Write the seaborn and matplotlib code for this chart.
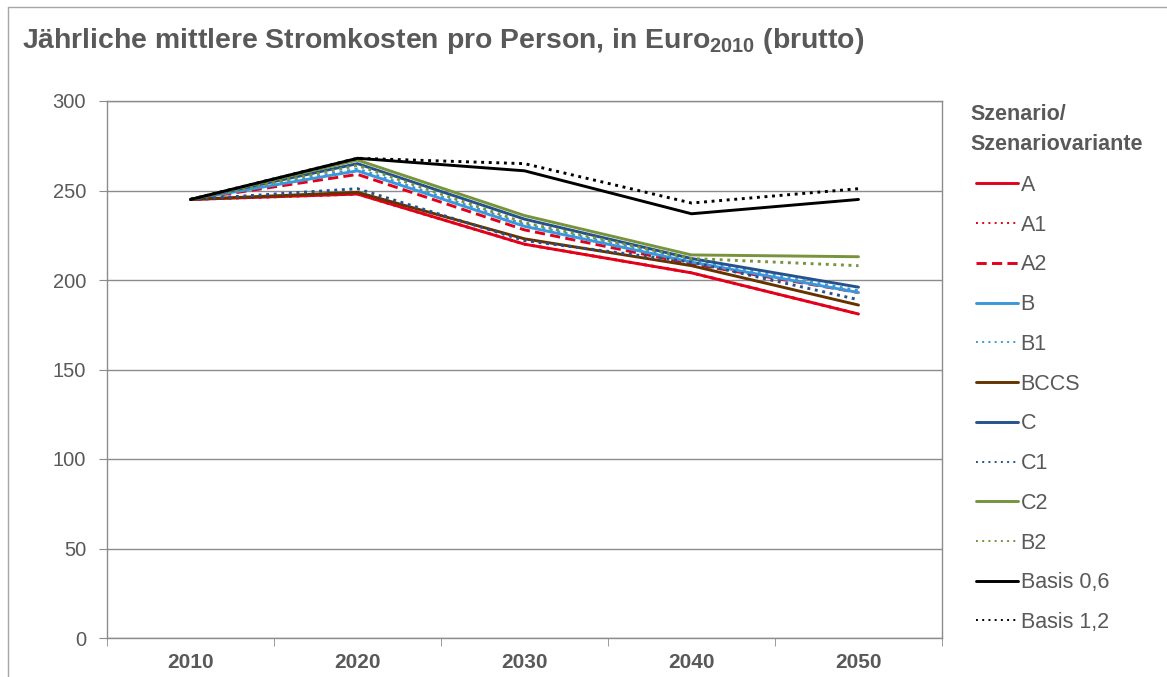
import pandas as pd
import seaborn as sns
import matplotlib.pyplot as plt
from matplotlib.lines import Line2D

# Values (Euro 2010, per person and year)
years = ["2010", "2020", "2030", "2040", "2050"]
scenarios = ["A", "A1", "A2", "B", "B1", "BCCS", "C", "C1", "C2", "B2",
             "Basis 0,6", "Basis 1,2"]
val_A = [245, 248, 220, 204, 181]
val_A1 = [245, 248, 220, 204, 181]  # hidden under A in the original
val_A2 = [245, 259, 228, 209, 193]
val_B = [245, 261, 230, 210, 193]
val_B1 = [245, 262, 231, 211, 194]
val_BCCS = [245, 249, 223, 208, 186]
val_C = [245, 265, 234, 212, 196]
val_C1 = [245, 251, 222, 210, 189]
val_C2 = [245, 267, 236, 214, 213]
val_B2 = [245, 264, 232, 212, 208]
val_basis06 = [245, 268, 261, 237, 245]
val_basis12 = [245, 268, 265, 243, 251]

all_values = [val_A, val_A1, val_A2, val_B, val_B1, val_BCCS, val_C, val_C1,
              val_C2, val_B2, val_basis06, val_basis12]

colors = {
    "A": "#E2001A", "A1": "#E2001A", "A2": "#E2001A",
    "B": "#3A98DA", "B1": "#3A98DA", "BCCS": "#663300",
    "C": "#24528C", "C1": "#24528C", "C2": "#77933C", "B2": "#77933C",
    "Basis 0,6": "#000000", "Basis 1,2": "#000000",
}
solid = ""
dotted = (1, 1.6)
dashed = (3.5, 1.8)
dashes = {
    "A": solid, "A1": dotted, "A2": dashed, "B": solid, "B1": dotted,
    "BCCS": solid, "C": solid, "C1": dotted, "C2": solid, "B2": dotted,
    "Basis 0,6": solid, "Basis 1,2": dotted,
}

rows = []
for name, vals in zip(scenarios, all_values):
    for i, v in enumerate(vals):
        rows.append({"pos": i, "Jahr": years[i], "Szenario": name, "Kosten": v})
df = pd.DataFrame(rows)

sns.set_style("white")
plt.rcParams["font.family"] = ["Liberation Sans", "DejaVu Sans"]
plt.rcParams["mathtext.fontset"] = "custom"
plt.rcParams["mathtext.bf"] = "Liberation Sans:bold"
plt.rcParams["mathtext.rm"] = "Liberation Sans"

grey = "#595959"
axis_grey = "#8C8C8C"

fig = plt.figure(figsize=(11.67, 6.77), dpi=100)
ax = fig.add_axes([107 / 1167, 39 / 677, 835 / 1167, 537 / 677])

sns.lineplot(data=df, x="pos", y="Kosten", hue="Szenario", style="Szenario",
             hue_order=scenarios, style_order=scenarios,
             palette=colors, dashes=dashes, linewidth=2.1, ax=ax)

ax.set_xlim(-0.5, 4.5)
ax.set_ylim(0, 300)
ax.set_yticks(range(0, 301, 50))
ax.set_xticks(range(5))
ax.set_xticklabels(years, fontweight="bold")
ax.set_xticks([-0.5, 0.5, 1.5, 2.5, 3.5, 4.5], minor=True)
ax.tick_params(axis="x", which="major", length=0, pad=11, labelsize=15,
               labelcolor=grey)
ax.tick_params(axis="x", which="minor", length=6, color=axis_grey,
               direction="out", bottom=True)
ax.tick_params(axis="y", length=6, color=axis_grey, direction="out", left=True,
               labelsize=14.5, labelcolor=grey, pad=9)
ax.set_xlabel("")
ax.set_ylabel("")
ax.yaxis.grid(True, color=axis_grey, linewidth=1)
ax.set_axisbelow(True)
for s in ax.spines.values():
    s.set_color(axis_grey)
    s.set_linewidth(1)

# legend entries, title drawn separately
handles, labels = ax.get_legend_handles_labels()
leg = ax.legend(handles, labels, loc="center left",
                bbox_to_anchor=((976 - 107) / 835, (638 - 404) / 537),
                frameon=False, fontsize=15.5, handlelength=1.95,
                handletextpad=0.12, labelspacing=0.87, borderpad=0,
                borderaxespad=0)
for t in leg.get_texts():
    t.set_color(grey)
# dotted legend samples are thinner in the original
for line, name in zip(leg.get_lines(), labels):
    if dashes[name] == dotted:
        line.set_linewidth(1.4)
        line.set_dashes((1, 2.2))

fig.text(970 / 1167, 1 - 114 / 677, "Szenario/", fontsize=15.5,
         fontweight="bold", color=grey, va="center", ha="left")
fig.text(970 / 1167, 1 - 144 / 677, "Szenariovariante", fontsize=15.5,
         fontweight="bold", color=grey, va="center", ha="left")

fig.text(22 / 1167, 1 - 41 / 677,
         r"Jährliche mittlere Stromkosten pro Person, in Euro$_{\mathbf{2010}}$ (brutto)",
         fontsize=20.4, fontweight="bold", color=grey, va="center", ha="left")

# outer frame of the original graphic
fig.add_artist(Line2D([8 / 1167, 8 / 1167], [0, 1 - 7 / 677],
                      transform=fig.transFigure, color="#A6A6A6", lw=1))
fig.add_artist(Line2D([8 / 1167, 1], [1 - 7 / 677, 1 - 7 / 677],
                      transform=fig.transFigure, color="#A6A6A6", lw=1))

fig.savefig("out.png", dpi=100)
